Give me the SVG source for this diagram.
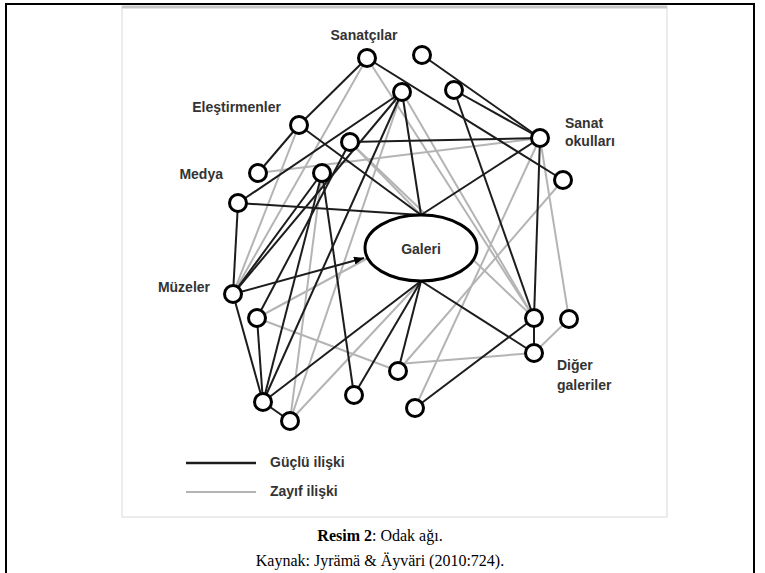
<svg xmlns="http://www.w3.org/2000/svg" width="765" height="573" viewBox="0 0 765 573">
<style>
.frame{stroke:#000;stroke-width:2;fill:none}
.pic{fill:#fff;stroke:#e6e6e6;stroke-width:1.5}
.s{stroke:#1c1c1c;stroke-width:2;fill:none}
.w{stroke:#b4b4b4;stroke-width:2;fill:none}
.node{fill:#fff;stroke:#000;stroke-width:3}
.lbl{font-family:"Liberation Sans",Arial,sans-serif;font-weight:bold;font-size:14px;fill:#333}
.cap{font-family:"Liberation Serif","Times New Roman",serif;font-size:16px;fill:#000}
</style>
<defs>
<marker id="arr" viewBox="0 0 10 8" refX="10" refY="4" markerWidth="10" markerHeight="8" markerUnits="userSpaceOnUse" orient="auto">
<path d="M0,0 L10,4 L0,8 z" fill="#000"/>
</marker>
</defs>
<rect x="0" y="0" width="765" height="573" fill="#fff"/>
<path class="frame" d="M6,573 V4 H754 V573"/>
<rect class="pic" x="122" y="7" width="545" height="510"/>
<line x1="122" y1="7" x2="667" y2="7" stroke="#c8c8c8" stroke-width="3"/>

<g id="connectors">
<g id="weak">
<line class="w" x1="367" y1="58" x2="534" y2="318"/>
<line class="w" x1="402" y1="92" x2="534" y2="318"/>
<line class="w" x1="350" y1="142" x2="534" y2="318"/>
<line class="w" x1="540" y1="138" x2="569" y2="319"/>
<line class="w" x1="569" y1="319" x2="534" y2="353"/>
<line class="w" x1="257" y1="318" x2="398" y2="371"/>
<line class="w" x1="398" y1="364" x2="534" y2="353"/>
<line class="w" x1="540" y1="138" x2="415" y2="408"/>
<line class="w" x1="563" y1="180" x2="398" y2="371"/>
<line class="w" x1="290" y1="421" x2="322" y2="173"/>
<line class="w" x1="299" y1="125" x2="233" y2="294"/>
<line class="w" x1="367" y1="58" x2="233" y2="294"/>
<line class="w" x1="258" y1="173" x2="540" y2="138"/>
<line class="w" x1="350" y1="142" x2="421" y2="215"/>
<line class="w" x1="402" y1="92" x2="290" y2="421"/>
<line class="w" x1="290" y1="421" x2="421" y2="281"/>
<line class="w" x1="257" y1="318" x2="368" y2="258"/>
</g>
<g id="strong">
<line class="s" x1="367" y1="58" x2="299" y2="125"/>
<line class="s" x1="367" y1="58" x2="563" y2="180"/>
<line class="s" x1="422" y1="55" x2="540" y2="138"/>
<line class="s" x1="454" y1="90" x2="540" y2="138"/>
<line class="s" x1="350" y1="142" x2="540" y2="138"/>
<line class="s" x1="454" y1="90" x2="534" y2="318"/>
<line class="s" x1="540" y1="138" x2="534" y2="318"/>
<line class="s" x1="540" y1="138" x2="421" y2="215"/>
<line class="s" x1="299" y1="125" x2="258" y2="173"/>
<line class="s" x1="299" y1="125" x2="421" y2="215"/>
<line class="s" x1="238" y1="203" x2="402" y2="92"/>
<line class="s" x1="238" y1="203" x2="421" y2="215"/>
<line class="s" x1="238" y1="203" x2="233" y2="294"/>
<line class="s" x1="402" y1="92" x2="421" y2="215"/>
<line class="s" x1="233" y1="294" x2="322" y2="173"/>
<line class="s" x1="233" y1="294" x2="402" y2="92"/>
<line class="s" x1="233" y1="294" x2="263" y2="402"/>
<line class="s" x1="257" y1="318" x2="263" y2="402"/>
<line class="s" x1="263" y1="402" x2="290" y2="421"/>
<line class="s" x1="263" y1="402" x2="402" y2="92"/>
<line class="s" x1="263" y1="402" x2="322" y2="173"/>
<line class="s" x1="263" y1="402" x2="421" y2="281"/>
<line class="s" x1="322" y1="173" x2="354" y2="395"/>
<line class="s" x1="354" y1="395" x2="421" y2="281"/>
<line class="s" x1="398" y1="371" x2="421" y2="281"/>
<line class="s" x1="421" y1="281" x2="534" y2="353"/>
<line class="s" x1="415" y1="408" x2="534" y2="318"/>
<line class="s" x1="534" y1="318" x2="534" y2="353"/>
<line class="s" x1="350" y1="142" x2="257" y2="318"/>
<line class="s" x1="233" y1="294" x2="364" y2="258" marker-end="url(#arr)"/>
</g>
</g>

<g id="galeri">
<ellipse cx="421" cy="248" rx="56" ry="33" fill="#fff" stroke="#000" stroke-width="3"/>
<text class="lbl" x="421" y="254" text-anchor="middle" font-size="15">Galeri</text>
</g>
<g id="n1"><circle class="node" cx="367" cy="58" r="8.5"/></g>
<g id="n2"><circle class="node" cx="422" cy="55" r="8.5"/></g>
<g id="n3"><circle class="node" cx="402" cy="92" r="8.5"/></g>
<g id="n4"><circle class="node" cx="454" cy="90" r="8.5"/></g>
<g id="n5"><circle class="node" cx="540" cy="138" r="8.5"/></g>
<g id="n6"><circle class="node" cx="563" cy="180" r="8.5"/></g>
<g id="n7"><circle class="node" cx="299" cy="125" r="8.5"/></g>
<g id="n8"><circle class="node" cx="350" cy="142" r="8.5"/></g>
<g id="n9"><circle class="node" cx="258" cy="173" r="8.5"/></g>
<g id="n10"><circle class="node" cx="322" cy="173" r="8.5"/></g>
<g id="n11"><circle class="node" cx="238" cy="203" r="8.5"/></g>
<g id="n12"><circle class="node" cx="233" cy="294" r="8.5"/></g>
<g id="n13"><circle class="node" cx="257" cy="318" r="8.5"/></g>
<g id="n14"><circle class="node" cx="263" cy="402" r="8.5"/></g>
<g id="n15"><circle class="node" cx="290" cy="421" r="8.5"/></g>
<g id="n16"><circle class="node" cx="354" cy="395" r="8.5"/></g>
<g id="n17"><circle class="node" cx="398" cy="371" r="8.5"/></g>
<g id="n18"><circle class="node" cx="415" cy="408" r="8.5"/></g>
<g id="n19"><circle class="node" cx="534" cy="318" r="8.5"/></g>
<g id="n20"><circle class="node" cx="569" cy="319" r="8.5"/></g>
<g id="n21"><circle class="node" cx="534" cy="353" r="8.5"/></g>

<g id="labels">
<text class="lbl" x="364" y="40" text-anchor="middle">Sanatçılar</text>
<text class="lbl" x="281" y="112" text-anchor="end">Eleştirmenler</text>
<text class="lbl" x="223" y="179" text-anchor="end">Medya</text>
<text class="lbl" x="210" y="292" text-anchor="end">Müzeler</text>
<text class="lbl" x="565" y="128">Sanat</text>
<text class="lbl" x="565" y="146">okulları</text>
<text class="lbl" x="557" y="370">Diğer</text>
<text class="lbl" x="557" y="390">galeriler</text>
</g>

<g id="legend">
<line x1="186" y1="463" x2="256" y2="463" stroke="#1c1c1c" stroke-width="2.5"/>
<line x1="186" y1="492" x2="256" y2="492" stroke="#b4b4b4" stroke-width="2"/>
<text class="lbl" x="270" y="467" font-size="12">Güçlü ilişki</text>
<text class="lbl" x="270" y="496" font-size="12">Zayıf ilişki</text>
</g>

<g id="caption">
<text class="cap" x="380" y="541" text-anchor="middle"><tspan font-weight="bold">Resim 2</tspan>: Odak ağı.</text>
<text class="cap" x="380" y="566" text-anchor="middle">Kaynak: Jyrämä &amp; Äyväri (2010:724).</text>
</g>
</svg>
